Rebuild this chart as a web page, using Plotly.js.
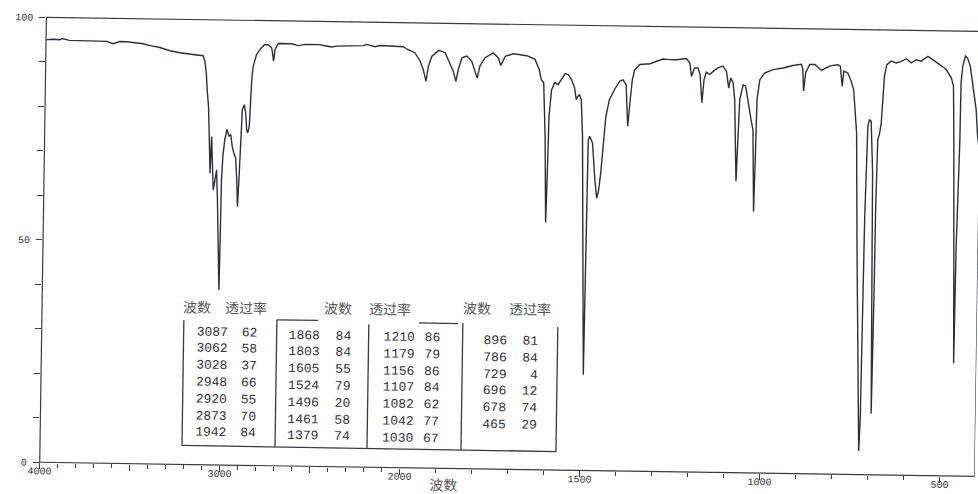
<!DOCTYPE html>
<html>
<head>
<meta charset="utf-8">
<script src="https://cdn.plot.ly/plotly-3.0.1.min.js"></script>
<style>
  html, body { margin: 0; padding: 0; background: #ffffff; overflow: hidden; }
  #chart { width: 978px; height: 494px; transform: rotate(0.86deg); transform-origin: 489px 247px; }
</style>
</head>
<body>
<div id="chart"></div>
<script>
// ---- spectrum (wavenumber cm-1, transmittance %) ----
const wavenumber = [
  4000,3960,3923,3910,3870,3812,3700,3662,3628,3590,3551,3500,3461,3420,3367,3311,3255,3172,3126,3116,
  3107,3101,3092,3086,3082,3078,3075,3072,3066,3059,3054,3050,3042,3035,3027,3019,3016,3014,3008,2999,
  2987,2976,2966,2957,2945,2937,2929,2923,2917,2911,2904,2893,2885,2878,2872,2864,2861,2854,2847,2830,
  2803,2786,2765,2746,2738,2735,2731,2728,2709,2635,2598,2561,2478,2459,2413,2385,2237,2218,2200,2172,
  2144,2080,2033,2015,2000,1975,1960,1951,1943,1937,1928,1909,1891,1877,1868,1860,1854,1844,1831,1817,
  1808,1801,1794,1780,1757,1743,1736,1724,1701,1664,1641,1629,1623,1616,1610,1605,1602,1600,1594,1585,
  1576,1567,1557,1548,1539,1530,1525,1521,1516,1511,1506,1500,1494,1492,1490,1486,1478,1470,1464,1459,
  1454,1447,1442,1433,1419,1405,1396,1387,1381,1375,1370,1364,1350,1322,1304,1286,1267,1248,1221,1211,
  1206,1198,1188,1182,1176,1171,1165,1155,1146,1133,1119,1109,1102,1097,1090,1085,1078,1074,1071,1062,
  1055,1050,1043,1038,1033,1028,1025,1023,1016,1003,980,952,925,901,897,894,889,878,864,845,
  832,818,800,793,787,783,772,762,755,745,739,730,726,723,721,719,714,710,705,699,
  696,693,690,689,686,681,677,673,670,664,652,638,624,610,596,582,569,550,536,517,
  499,484,478,475,470,466,464,461,458,457,453,446,440,432,427,414,409,403
];
const transmittance = [
  95.0,95.1,95.0,95.3,94.9,94.9,94.9,94.8,94.3,94.8,94.8,94.6,94.4,94.0,93.6,92.9,92.5,92.1,91.9,90.7,
  88.0,84.3,80.5,74.5,68.0,65.5,70.0,73.8,68.0,61.8,63.0,64.1,66.3,60.0,50.5,39.3,52.0,64.1,69.4,73.1,
  75.4,73.9,74.3,71.6,69.8,69.0,64.1,58.1,64.1,73.2,79.9,81.0,79.2,75.4,74.7,76.2,80.7,86.7,89.7,92.3,
  93.9,94.6,94.6,93.9,92.0,90.9,92.0,93.5,94.9,94.9,94.5,94.8,94.8,94.6,94.3,94.5,94.7,95.0,94.8,94.5,
  94.8,94.7,94.7,94.6,94.2,93.3,91.4,89.5,86.9,90.3,92.5,93.9,93.4,91.1,89.3,87.0,89.6,92.3,92.7,91.6,
  89.7,87.8,90.5,92.4,93.5,92.4,90.7,92.8,93.4,93.0,92.2,89.9,87.7,86.9,75.0,55.6,68.0,79.4,85.4,87.1,
  86.6,87.7,89.1,88.9,87.8,85.9,83.3,84.0,84.4,83.3,75.0,48.0,21.5,48.0,74.3,75.1,73.6,65.3,61.2,63.1,
  66.9,74.4,79.6,83.4,85.7,87.6,87.9,86.8,77.5,83.5,88.0,90.2,91.4,91.6,92.2,92.7,92.6,92.6,92.9,91.9,
  88.9,90.8,90.8,89.3,83.0,88.2,89.9,89.4,90.1,90.9,91.3,90.2,86.4,88.7,87.6,83.8,65.5,76.4,83.9,87.2,
  86.9,84.6,80.9,79.0,77.1,58.7,72.6,83.9,88.4,89.9,90.7,91.1,91.7,92.0,90.9,86.0,90.1,92.0,92.0,90.7,
  91.3,91.8,92.0,91.7,87.2,90.6,90.2,88.3,86.5,76.7,50.5,20.0,5.3,12.9,44.5,58.0,78.3,79.8,79.4,68.0,
  40.0,13.7,40.0,60.0,75.3,76.8,79.1,84.3,89.6,92.2,93.0,92.6,93.0,93.6,92.7,93.4,93.1,94.2,93.5,92.4,
  91.3,89.4,87.6,77.1,50.0,25.3,50.8,62.0,75.6,88.4,92.1,94.4,94.0,92.1,89.1,82.4,76.4,73.0
];

// ---- peak table printed on the chart ----
const peakWavenumbers = [3087,3062,3028,2948,2920,2873,1942,
                         1868,1803,1605,1524,1496,1461,1379,
                         1210,1179,1156,1107,1082,1042,1030,
                         896,786,729,696,678,465];
const peakTransmittance = [62,58,37,66,55,70,84,
                           84,84,55,79,20,58,74,
                           86,79,86,84,62,77,67,
                           81,84,4,12,74,29];
const headerWavenumber = '波数';
const headerTransmittance = '透过率';
const xTitle = '波数';

// ---- axis ticks ----
const xTicksLeft = [4000, 3500, 3000, 2500];
const xTickTextLeft = ['4000', '', '3000', ''];
const xTicksRight = [2000, 1500, 1000, 500];
const xTickTextRight = ['2000', '1500', '1000', '500'];
const yTicks = [0,10,20,30,40,50,60,70,80,90,100];
const yTickText = ['0','','','','','50','','','','','100'];

// ---- geometry helpers (pixel positions in the unrotated frame -> paper) ----
const ML = 43, MT = 24, MB = 25, W = 978, H = 494;
const PW = W - ML, PH = H - MT - MB;
const px = x => (x - ML) / PW;
const py = y => (H - MB - y) / PH;

const split = 360 / PW;
const ink = '#2f2f3b';

const leftX = [], leftY = [], rightX = [], rightY = [];
wavenumber.forEach((w, i) => {
  if (w >= 2000) { leftX.push(w); leftY.push(transmittance[i]); }
  if (w <= 2000) { rightX.push(w); rightY.push(transmittance[i]); }
});

const lineStyle = { color: ink, width: 1.4, shape: 'linear' };
const traces = [
  { x: leftX, y: leftY, xaxis: 'x', yaxis: 'y', mode: 'lines', line: lineStyle, hoverinfo: 'skip', showlegend: false },
  { x: rightX, y: rightY, xaxis: 'x2', yaxis: 'y', mode: 'lines', line: lineStyle, hoverinfo: 'skip', showlegend: false }
];

const tickFont = { family: 'Liberation Mono, DejaVu Sans Mono, monospace', size: 10, color: '#333' };
const annotations = [];
const shapes = [];

// frame
shapes.push({ type: 'rect', xref: 'paper', yref: 'paper', x0: 0, x1: 1, y0: 0, y1: 1,
  line: { color: '#3a3a44', width: 1.2 } });

// table columns
const colDefs = [
  { start: 0, n: 7, wx: 213, tx: 261, y0: 336, dy: 16.8, hx: [198, 247], hy: 311 },
  { start: 7, n: 7, wx: 305, tx: 354.5, y0: 338, dy: 16.8, hx: [339, 391], hy: 309.5 },
  { start: 14, n: 7, wx: 400, tx: 443.5, y0: 338.5, dy: 16.8, hx: null, hy: 0 },
  { start: 21, n: 6, wx: 496, tx: 541.5, y0: 341, dy: 16.6, hx: [478, 531], hy: 308 }
];
const tabFont = { family: 'Liberation Mono, DejaVu Sans Mono, monospace', size: 13, color: '#333' };
const headFont = { family: 'Noto Sans CJK SC, sans-serif', size: 14, color: '#555' };
colDefs.forEach(c => {
  for (let k = 0; k < c.n; k++) {
    const i = c.start + k;
    const yy = c.y0 + k * c.dy;
    annotations.push({ xref: 'paper', yref: 'paper', x: px(c.wx), y: py(yy), text: String(peakWavenumbers[i]),
      showarrow: false, xanchor: 'center', yanchor: 'middle', font: tabFont });
    annotations.push({ xref: 'paper', yref: 'paper', x: px(c.tx), y: py(yy), text: String(peakTransmittance[i]),
      showarrow: false, xanchor: 'right', yanchor: 'middle', font: tabFont });
  }
  if (c.hx) {
    annotations.push({ xref: 'paper', yref: 'paper', x: px(c.hx[0]), y: py(c.hy), text: headerWavenumber,
      showarrow: false, xanchor: 'center', yanchor: 'middle', font: headFont });
    annotations.push({ xref: 'paper', yref: 'paper', x: px(c.hx[1]), y: py(c.hy), text: headerTransmittance,
      showarrow: false, xanchor: 'center', yanchor: 'middle', font: headFont });
  }
});

// table rules
const seg = (x0, y0, x1, y1) => shapes.push({ type: 'line', xref: 'paper', yref: 'paper',
  x0: px(x0), y0: py(y0), x1: px(x1), y1: py(y1), line: { color: '#3a3a44', width: 1.3 } });
seg(185, 324.5, 185, 450);
seg(278, 323, 278, 450);
seg(278, 323, 319, 323);
seg(370, 326, 370, 450.5);
seg(420, 324, 459, 324);
seg(464, 323.5, 464, 450.5);
seg(559, 326, 559, 451);
seg(185, 450, 559, 450.5);

// x-axis title
annotations.push({ xref: 'paper', yref: 'paper', x: px(447), y: py(485), text: xTitle, showarrow: false,
  xanchor: 'center', yanchor: 'middle', font: headFont });

const commonX = {
  showgrid: false, zeroline: false, showline: false, ticks: 'outside', ticklen: 6, tickwidth: 1.2,
  tickcolor: '#3a3a44', tickfont: tickFont, anchor: 'y', fixedrange: true, ticklabelstandoff: -7,
  minor: { dtick: 100, ticks: 'outside', ticklen: 4, tickwidth: 1, tickcolor: '#3a3a44' }
};

const layout = {
  width: W, height: H,
  margin: { l: ML, r: 0, t: MT, b: MB, pad: 0 },
  paper_bgcolor: '#ffffff', plot_bgcolor: '#ffffff',
  xaxis: Object.assign({}, commonX, { domain: [0, split], range: [4000, 2000], tickmode: 'array',
    tickvals: xTicksLeft, ticktext: xTickTextLeft }),
  xaxis2: Object.assign({}, commonX, { domain: [split, 1], range: [2000, 403], tickmode: 'array',
    tickvals: xTicksRight, ticktext: xTickTextRight }),
  yaxis: { domain: [0, 1], range: [0, 100], showgrid: false, zeroline: false, showline: false,
    ticks: 'outside', ticklen: 6, tickwidth: 1.2, tickcolor: '#3a3a44', tickmode: 'array',
    tickvals: yTicks, ticktext: yTickText, tickfont: tickFont, anchor: 'x', fixedrange: true,
    ticklabelstandoff: 4 },
  shapes: shapes,
  annotations: annotations,
  showlegend: false
};

Plotly.newPlot('chart', traces, layout, { staticPlot: true, displayModeBar: false });
</script>
</body>
</html>
